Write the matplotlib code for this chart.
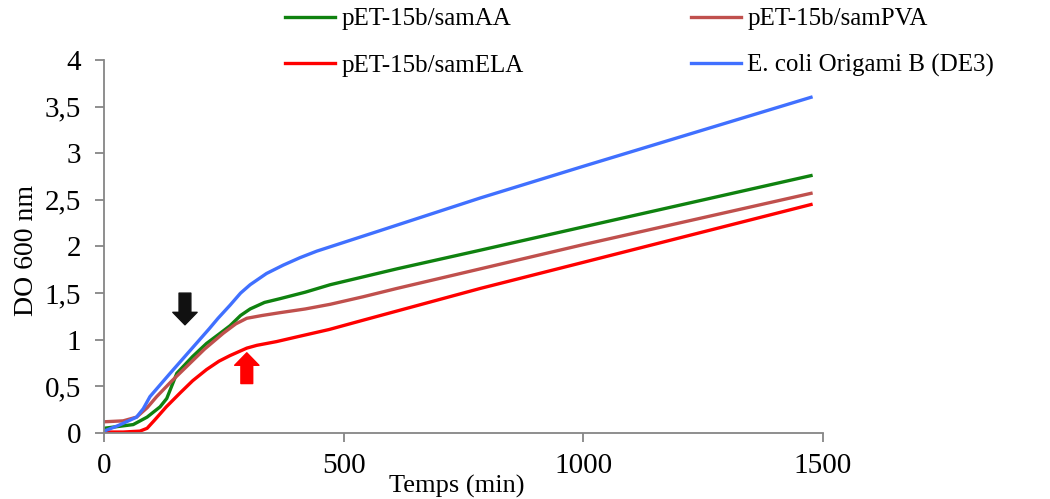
import numpy as np
import matplotlib.pyplot as plt

plt.rcParams['font.family'] = ['Liberation Serif', 'DejaVu Serif']

# valeurs (DO 600 nm en fonction du temps en min)
t_aa = [0, 30, 61, 90, 117, 131, 152, 185, 214, 240, 263, 285, 305, 335, 367, 420, 472, 611, 785, 1000, 1475]
do_aa = [0.05, 0.07, 0.09, 0.17, 0.28, 0.37, 0.64, 0.82, 0.96, 1.06, 1.15, 1.26, 1.33, 1.40, 1.44, 1.51, 1.59, 1.76, 1.96, 2.21, 2.76]

t_pva = [0, 40, 68, 90, 110, 140, 172, 210, 249, 275, 298, 330, 367, 420, 472, 540, 611, 785, 1000, 1475]
do_pva = [0.12, 0.13, 0.17, 0.27, 0.39, 0.55, 0.71, 0.90, 1.07, 1.17, 1.23, 1.26, 1.29, 1.33, 1.38, 1.46, 1.55, 1.76, 2.02, 2.57]

t_ela = [0, 40, 75, 90, 106, 130, 159, 185, 214, 240, 263, 298, 319, 360, 402, 470, 541, 785, 1000, 1475]
do_ela = [0.01, 0.01, 0.02, 0.05, 0.14, 0.28, 0.43, 0.56, 0.68, 0.77, 0.83, 0.91, 0.94, 0.98, 1.03, 1.11, 1.21, 1.55, 1.83, 2.45]

t_wt = [0, 30, 68, 82, 96, 138, 179, 220, 238, 263, 285, 305, 339, 374, 409, 444, 492, 576, 785, 1000, 1475]
do_wt = [0.02, 0.08, 0.17, 0.26, 0.39, 0.64, 0.88, 1.12, 1.23, 1.37, 1.50, 1.59, 1.71, 1.80, 1.88, 1.95, 2.03, 2.17, 2.52, 2.86, 3.60]

labels = ['pET-15b/samAA', 'pET-15b/samPVA', 'pET-15b/samELA', 'E. coli Origami B (DE3)']
colors = ['#0F820F', '#C0504D', '#FF0000', '#4070FF']

fig = plt.figure(figsize=(10.5, 4.99), dpi=100)
ax = fig.add_axes([0.099, 0.1323, 0.6848, 0.7475])

l_aa, = ax.plot(t_aa, do_aa, color=colors[0], lw=2.4, solid_joinstyle='round')
l_pva, = ax.plot(t_pva, do_pva, color=colors[1], lw=2.4, solid_joinstyle='round')
l_ela, = ax.plot(t_ela, do_ela, color=colors[2], lw=2.4, solid_joinstyle='round')
l_wt, = ax.plot(t_wt, do_wt, color=colors[3], lw=2.4, solid_joinstyle='round')

# fleches (induction)
style = 'simple,head_width=1.75,head_length=0.9,tail_width=0.85'
ax.annotate('', xy=(169, 1.16), xytext=(169, 1.50),
            arrowprops=dict(arrowstyle=style, color='#111111', shrinkA=0, shrinkB=0))
ax.annotate('', xy=(298, 0.86), xytext=(298, 0.53),
            arrowprops=dict(arrowstyle=style, color='#FF0000', shrinkA=0, shrinkB=0))

ax.set_xlim(0, 1500)
ax.set_ylim(0, 4)
ax.set_xticks([0, 500, 1000, 1500])
ax.set_yticks(np.arange(0, 4.01, 0.5))
ax.set_yticklabels(['0', '0,5', '1', '1,5', '2', '2,5', '3', '3,5', '4'])

for s in ['top', 'right']:
    ax.spines[s].set_visible(False)
for s in ['left', 'bottom']:
    ax.spines[s].set_color('#868686')
    ax.spines[s].set_linewidth(1.3)
ax.tick_params(axis='both', colors='#868686', labelcolor='black', labelsize=21, width=1.3, length=6.5)
ax.tick_params(axis='x', pad=8)
ax.tick_params(axis='y', pad=10)

ax.set_xlabel('Temps (min)', fontsize=19)
ax.xaxis.set_label_coords(0.491, -0.1735)
ax.xaxis.label.set_va('bottom')
ax.set_ylabel('DO 600 nm', fontsize=20)
ax.yaxis.set_label_coords(-0.108, 0.49)
ax.yaxis.label.set_va('center')

# ordre colonne par colonne pour avoir AA, PVA sur la 1re ligne
ax.legend([l_aa, l_ela, l_pva, l_wt], [labels[0], labels[2], labels[1], labels[3]],
          loc='upper left', bbox_to_anchor=(285 / 1050, 1 - 8 / 499), bbox_transform=fig.transFigure,
          ncol=2, frameon=False, fontsize=18, handlelength=2.0, handletextpad=0.25,
          columnspacing=6.7, labelspacing=0.95, borderpad=0, borderaxespad=0)

fig.savefig('out.png', dpi=100)
